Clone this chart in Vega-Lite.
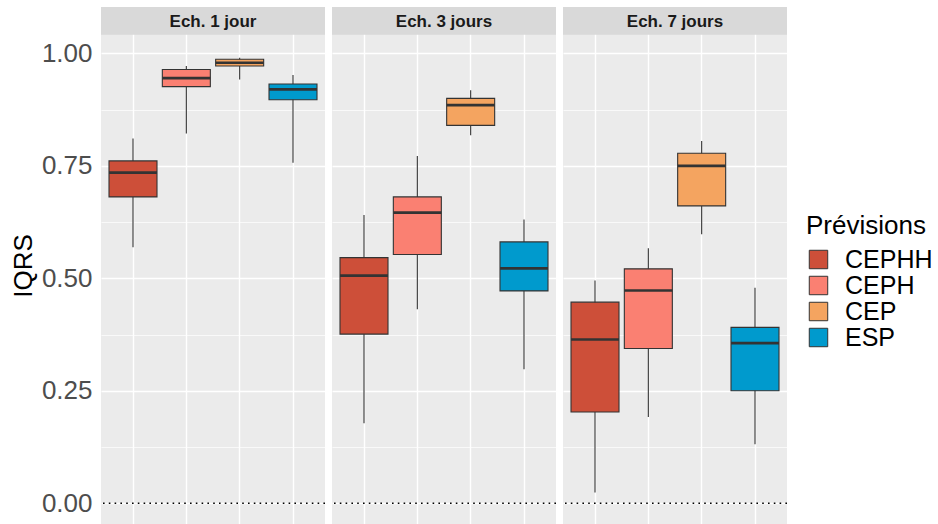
{
  "$schema": "https://vega.github.io/schema/vega-lite/v6.json",
  "padding": {"left": 10, "top": 7, "right": 0, "bottom": 0},
  "background": "white",
  "data": {"values": [
    {"Ech": "Ech. 1 jour", "Prev": "CEPHH", "lower": 0.811, "q3": 0.761, "median": 0.735, "q1": 0.681, "upper": 0.569},
    {"Ech": "Ech. 1 jour", "Prev": "CEPH", "lower": 0.972, "q3": 0.964, "median": 0.945, "q1": 0.926, "upper": 0.822},
    {"Ech": "Ech. 1 jour", "Prev": "CEP", "lower": 0.990, "q3": 0.987, "median": 0.979, "q1": 0.972, "upper": 0.942},
    {"Ech": "Ech. 1 jour", "Prev": "ESP", "lower": 0.952, "q3": 0.932, "median": 0.920, "q1": 0.897, "upper": 0.757},
    {"Ech": "Ech. 3 jours", "Prev": "CEPHH", "lower": 0.641, "q3": 0.546, "median": 0.506, "q1": 0.376, "upper": 0.178},
    {"Ech": "Ech. 3 jours", "Prev": "CEPH", "lower": 0.772, "q3": 0.681, "median": 0.646, "q1": 0.553, "upper": 0.431},
    {"Ech": "Ech. 3 jours", "Prev": "CEP", "lower": 0.918, "q3": 0.900, "median": 0.885, "q1": 0.840, "upper": 0.818},
    {"Ech": "Ech. 3 jours", "Prev": "ESP", "lower": 0.631, "q3": 0.581, "median": 0.522, "q1": 0.472, "upper": 0.298},
    {"Ech": "Ech. 7 jours", "Prev": "CEPHH", "lower": 0.495, "q3": 0.447, "median": 0.364, "q1": 0.203, "upper": 0.024},
    {"Ech": "Ech. 7 jours", "Prev": "CEPH", "lower": 0.567, "q3": 0.521, "median": 0.473, "q1": 0.344, "upper": 0.192},
    {"Ech": "Ech. 7 jours", "Prev": "CEP", "lower": 0.805, "q3": 0.778, "median": 0.750, "q1": 0.661, "upper": 0.598},
    {"Ech": "Ech. 7 jours", "Prev": "ESP", "lower": 0.479, "q3": 0.391, "median": 0.356, "q1": 0.250, "upper": 0.131}
  ]},
  "facet": {"column": {"field": "Ech", "type": "nominal", "header": null}},
  "spacing": 5,
  "spec": {
    "width": 224,
    "height": 517,
    "encoding": {
      "x": {"field": "Prev", "type": "nominal", "sort": ["CEPHH", "CEPH", "CEP", "ESP"],
        "scale": {"paddingInner": 0.1, "paddingOuter": 0.15},
        "axis": {"title": null, "labels": false, "ticks": false, "domain": false, "grid": true, "gridColor": "white", "gridWidth": 1.4, "bandPosition": 0.5}}
    },
    "layer": [
      {
        "mark": {"type": "rule", "color": "#333333", "strokeWidth": 1.1},
        "encoding": {
          "y": {"field": "upper", "type": "quantitative",
            "scale": {"domain": [-0.046, 1.103], "nice": false, "zero": false},
            "axis": {"title": "IQRS", "values": [0, 0.125, 0.25, 0.375, 0.5, 0.625, 0.75, 0.875, 1],
              "format": ".2f", "labelExpr": "(datum.value*4)%1 === 0 ? datum.label : ''",
              "ticks": false, "domain": false, "labelPadding": 8,
              "labelFont": "Liberation Sans", "labelFontSize": 26, "labelColor": "#4D4D4D",
              "titleFont": "Liberation Sans", "titleFontSize": 26, "titleFontWeight": "normal", "titleColor": "#000000", "titlePadding": 5,
              "grid": true, "gridColor": "white",
              "gridWidth": {"condition": {"test": "(datum.value*4)%1 === 0", "value": 1.4}, "value": 0.7}}},
          "y2": {"field": "lower"}
        }
      },
      {
        "mark": {"type": "bar", "stroke": "#333333", "strokeWidth": 1.1},
        "encoding": {
          "y": {"field": "q1", "type": "quantitative"},
          "y2": {"field": "q3"},
          "fill": {"field": "Prev", "type": "nominal", "sort": ["CEPHH", "CEPH", "CEP", "ESP"],
            "scale": {"domain": ["CEPHH", "CEPH", "CEP", "ESP"], "range": ["#CD4F39", "#FA8072", "#F4A460", "#009ACD"]},
            "legend": {"title": "Prévisions", "orient": "none", "legendX": 705, "legendY": 206,
              "titleFont": "Liberation Sans", "titleFontSize": 26, "titleFontWeight": "normal", "titleColor": "#000000", "titlePadding": 8,
              "labelFont": "Liberation Sans", "labelFontSize": 25, "labelColor": "#000000", "labelOffset": 14,
              "symbolType": "square", "symbolSize": 340, "symbolStrokeColor": "#333333", "symbolStrokeWidth": 1, "symbolOpacity": 1,
              "rowPadding": -0.5}}
        }
      },
      {
        "mark": {"type": "tick", "color": "#333333", "thickness": 2.6, "size": 48, "opacity": 1},
        "encoding": {"y": {"field": "median", "type": "quantitative"}}
      },
      {
        "transform": [{"filter": "datum.Prev === 'CEPHH'"}],
        "mark": {"type": "rule", "color": "#000000", "strokeWidth": 1.6, "strokeDash": [1.6, 4.2]},
        "encoding": {"y": {"datum": 0}, "x": null}
      },
      {
        "transform": [{"filter": "datum.Prev === 'CEPHH'"}],
        "mark": {"type": "rect", "color": "#D9D9D9"},
        "encoding": {"y": {"datum": 1.0413}, "y2": {"datum": 1.103}, "x": null}
      },
      {
        "transform": [{"filter": "datum.Prev === 'CEPHH'"}],
        "mark": {"type": "text", "font": "Liberation Sans", "fontSize": 17, "fontWeight": "bold", "color": "#1A1A1A", "baseline": "middle", "align": "center"},
        "encoding": {"y": {"datum": 1.07}, "x": null, "text": {"field": "Ech"}}
      }
    ]
  },
  "config": {
    "view": {"fill": "#EBEBEB", "stroke": null},
    "font": "Liberation Sans"
  }
}
